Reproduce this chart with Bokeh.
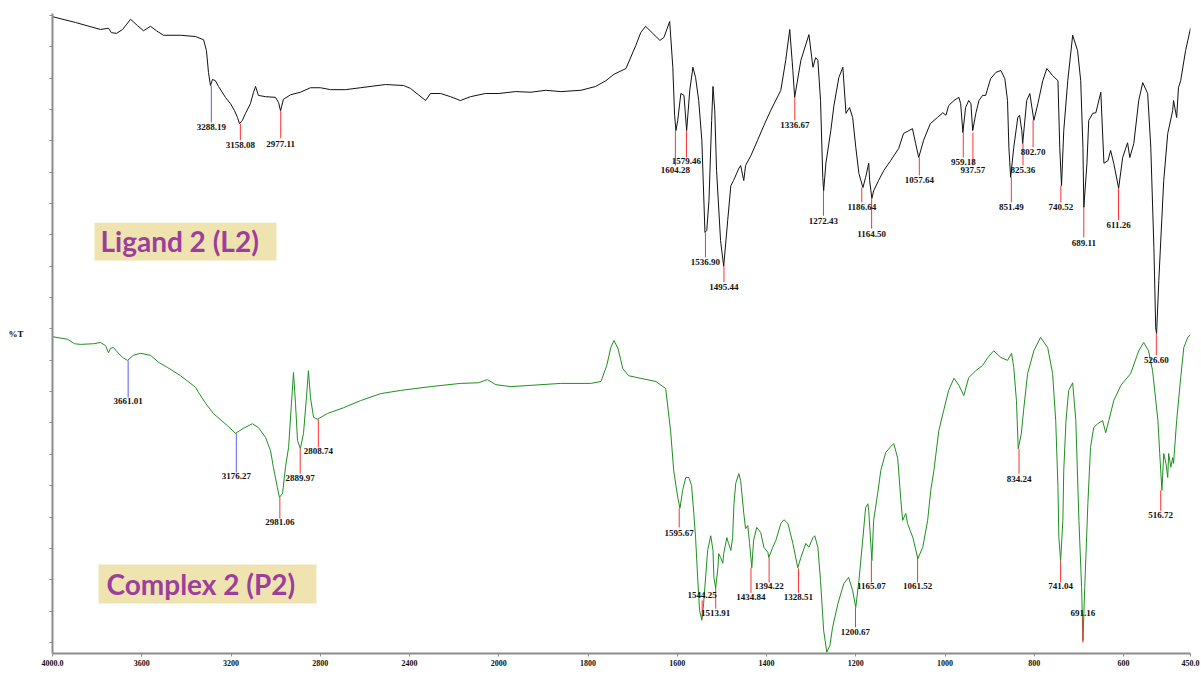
import numpy as np
from bokeh.plotting import figure
from bokeh.models import (FixedTicker, BoxAnnotation, Label, Range1d, ColumnDataSource,
                          CustomJSTickFormatter)
from bokeh.core.properties import value
from bokeh.embed import file_html
from bokeh.resources import INLINE

# ---------------- data (wavenumber cm-1, %T offset scale) ----------------
l2_wn = [4000,3897,3785,3749,3736,3713,3686,3650,3619,3592,
         3561,3534,3503,3426,3359,3323,3310,3301,3292,3283,
         3270,3256,3225,3202,3184,3171,3162,3149,3135,3113,
         3099,3090,3077,3045,3001,2987,2978,2965,2933,2889,
         2844,2799,2754,2687,2620,2508,2427,2396,2360,2328,
         2306,2261,2216,2172,2127,2060,2000,1962,1928,1895,
         1861,1816,1783,1760,1742,1715,1693,1682,1671,1655,
         1639,1630,1617,1610,1606,1603,1599,1592,1585,1579,
         1572,1565,1559,1552,1545,1538,1534,1529,1523,1520,
         1516,1512,1503,1496,1487,1480,1474,1462,1458,1451,
         1447,1435,1420,1406,1391,1368,1357,1348,1341,1337,
         1323,1305,1296,1290,1285,1279,1274,1272,1267,1256,
         1249,1238,1229,1222,1214,1207,1200,1193,1184,1178,
         1171,1169,1164,1160,1149,1137,1122,1104,1093,1081,
         1073,1066,1059,1048,1033,1017,1005,998,992,980,
         969,965,960,954,947,942,938,931,924,916,
         909,904,898,886,875,866,860,857,853,846,
         837,833,828,826,817,810,801,792,781,772,
         759,747,743,739,734,725,714,703,696,691,
         689,682,678,669,662,651,644,635,629,622,
         611,602,591,586,577,566,557,546,539,532,
         528,526,521,510,501,490,488,481,477,472,
         461,450]
l2_t = [99.5,98.6,97.5,97.7,97.0,96.9,97.5,99.1,98.1,97.3,
        98.0,97.3,96.6,96.6,96.4,95.9,94.2,90.8,88.75,89.7,
        89.5,88.6,86.9,85.9,84.8,83.75,82.8,83.3,84.4,85.9,
        87.7,88.6,87.2,87.0,86.9,86.1,84.8,86.6,87.3,87.7,
        88.4,88.4,88.1,88.1,88.4,88.9,88.75,88.3,87.3,86.4,
        87.5,87.5,87.0,86.4,87.0,87.5,87.5,87.8,87.7,88.0,
        87.8,88.0,88.6,89.5,90.5,91.4,95.0,97.0,98.0,96.9,
        95.8,96.25,98.75,91.6,84.1,81.7,83.3,87.5,87.2,81.7,
        88.0,91.6,90.0,86.4,80.2,65.8,66.1,70.8,83.3,88.6,
        84.8,75.5,64.5,60.5,67.7,73.1,73.9,75.8,76.25,73.9,
        76.25,77.8,80.2,82.5,84.8,88.0,92.7,97.5,91.1,86.9,
        92.7,96.7,91.6,93.1,92.7,86.4,74.4,72.3,76.6,81.7,
        85.6,90.0,91.6,84.4,85.3,83.75,79.1,75.0,72.8,74.4,
        76.6,73.9,71.1,72.3,73.9,75.5,77.0,78.9,81.25,81.7,
        82.0,79.7,77.5,80.2,82.8,83.75,84.5,84.1,85.6,86.4,
        86.9,85.9,81.4,85.3,86.4,85.9,81.7,84.4,86.4,87.2,
        87.2,88.4,89.8,90.8,91.1,89.8,86.4,79.1,74.4,79.1,
        83.75,84.1,81.7,79.7,86.4,87.5,83.3,85.9,89.5,91.4,
        90.3,89.5,79.1,73.1,81.7,89.5,96.6,94.2,89.5,79.1,
        69.7,76.6,83.3,84.4,84.5,87.7,76.6,77.0,78.6,76.6,
        72.7,77.5,79.8,77.5,79.7,86.4,89.2,87.5,79.1,63.4,
        50.9,50.0,58.3,73.9,81.25,84.8,86.4,83.75,88.4,89.5,
        94.2,97.7]

p2_wn = [4000,3933,3901,3875,3816,3785,3762,3749,3740,3727,
         3704,3686,3664,3637,3606,3561,3525,3485,3426,3359,
         3346,3314,3279,3216,3180,3144,3104,3077,3045,3023,
         3010,2992,2983,2969,2956,2942,2929,2920,2911,2902,
         2889,2875,2862,2853,2844,2830,2812,2768,2696,2620,
         2530,2441,2306,2172,2091,2051,2013,1973,1928,1861,
         1794,1771,1758,1749,1742,1733,1722,1709,1682,1648,
         1626,1615,1608,1599,1594,1588,1581,1574,1568,1563,
         1559,1554,1550,1545,1541,1532,1525,1520,1518,1514,
         1509,1507,1503,1498,1496,1489,1485,1480,1476,1473,
         1469,1462,1458,1451,1447,1442,1438,1433,1429,1422,
         1413,1406,1397,1395,1386,1379,1368,1361,1352,1341,
         1330,1323,1312,1305,1296,1292,1285,1279,1272,1265,
         1258,1252,1240,1227,1216,1207,1200,1193,1184,1178,
         1173,1171,1164,1160,1151,1144,1133,1122,1115,1106,
         1099,1095,1088,1084,1072,1061,1050,1039,1032,1025,
         1014,1003,992,980,969,958,947,931,916,904,
         891,875,860,851,846,840,836,829,824,815,
         801,786,770,759,752,747,745,741,736,734,
         729,723,714,707,700,694,691,687,680,674,
         667,658,647,640,633,622,606,584,566,555,
         544,535,523,519,514,510,505,501,499,494,
         490,488,481,472,465,456,450]
p2_t = [49.5,49.1,48.4,48.3,48.4,48.6,48.1,47.0,47.7,47.8,
        46.9,46.25,45.8,46.6,46.9,46.6,45.5,44.7,43.4,41.6,
        40.8,39.1,37.5,35.6,34.4,35.2,35.9,35.3,33.75,31.7,
        29.1,25.9,24.4,25.0,29.1,32.2,39.1,43.9,39.1,33.3,
        32.0,34.4,40.0,44.2,40.0,36.9,36.6,37.5,38.4,39.5,
        40.6,41.1,41.7,42.2,42.3,42.8,42.0,41.7,41.9,42.2,
        42.2,42.5,45.0,47.8,48.9,47.7,44.5,43.4,43.0,42.5,
        41.4,34.8,28.6,24.4,22.7,25.5,27.5,27.5,26.25,21.9,
        18.1,11.4,6.7,5.2,7.8,16.1,18.4,16.1,11.9,10.2,
        13.4,15.6,15.0,14.1,15.6,18.1,17.2,16.1,18.1,23.4,
        26.6,28.1,27.0,21.9,19.5,20.0,17.2,13.4,17.7,19.7,
        18.9,16.6,15.8,15.0,16.6,17.7,20.3,20.9,20.3,17.2,
        13.4,15.0,17.2,16.6,18.1,18.4,16.6,11.4,3.6,0.2,
        1.25,4.1,7.8,10.9,11.9,9.8,7.2,11.4,18.1,22.8,
        23.4,22.3,14.5,20.8,25.0,28.6,31.4,32.3,32.8,30.5,
        23.9,20.8,21.9,20.3,18.1,14.8,16.6,20.8,25.5,28.6,
        34.8,38.0,41.1,43.0,41.9,40.3,43.1,44.2,45.0,46.25,
        47.3,46.25,45.8,46.9,44.7,39.5,32.0,34.4,38.0,43.75,
        47.3,49.4,47.8,43.75,36.4,25.9,18.1,14.5,20.8,28.6,
        36.4,41.1,42.3,36.4,20.8,10.3,2.0,10.3,23.4,32.2,
        35.3,35.9,36.4,34.5,36.4,39.5,41.9,43.75,47.3,48.6,
        47.3,44.2,36.4,31.25,25.5,31.25,29.7,27.5,31.25,29.1,
        30.6,29.7,36.4,43.1,47.8,49.4,49.8]

# peak picks: wavenumber, marker top, marker bottom, label position
l2_peaks = [3288.19, 3158.08, 2977.11, 1604.28, 1579.46, 1536.90, 1495.44, 1336.67,
            1272.43, 1186.64, 1164.50, 1057.64, 959.18, 937.57, 851.49, 825.36,
            802.70, 740.52, 689.11, 611.26, 526.60]
l2_peak_top = [88.75, 82.8, 84.8, 81.7, 81.7, 65.8, 60.5, 86.9, 72.3, 72.8, 71.1, 77.5,
               81.4, 81.4, 74.4, 79.7, 83.3, 73.1, 69.7, 72.7, 50.0]
l2_peak_bot = [82.97, 80.2, 80.5, 76.25, 77.5, 61.9, 58.0, 83.3, 68.4, 70.5, 66.4, 74.7,
               77.5, 76.25, 70.5, 76.25, 79.1, 70.5, 65.0, 67.7, 46.6]
l2_peak_lab = [82.2, 79.4, 79.6, 75.5, 76.9, 61.2, 57.2, 82.6, 67.6, 69.8, 65.6, 74.0,
               76.8, 75.5, 69.8, 75.5, 78.3, 69.8, 64.2, 67.0, 45.8]
l2_peak_col = ["#5a5aff"] + ["#ff3030"] * 20

p2_peaks = [3661.01, 3176.27, 2981.06, 2889.97, 2808.74, 1595.67, 1544.25, 1513.91,
            1434.84, 1394.22, 1328.51, 1200.67, 1165.07, 1061.52, 834.24, 741.04,
            691.16, 516.72]
p2_peak_top = [45.8, 34.4, 24.4, 32.0, 36.6, 22.7, 8.3, 10.2, 13.4, 15.0, 13.3, 7.2,
               14.5, 15.3, 32.0, 14.5, 5.6, 25.5]
p2_peak_bot = [40.0, 28.3, 21.1, 28.1, 32.2, 19.7, 5.6, 7.0, 9.5, 11.1, 9.5, 4.1,
               11.1, 11.1, 28.1, 11.1, 1.7, 22.3]
p2_peak_lab = [39.4, 27.7, 20.5, 27.5, 31.6, 18.9, 9.1, 6.3, 8.9, 10.5, 8.9, 3.3,
               10.5, 10.5, 27.3, 10.5, 6.3, 21.7]
p2_peak_col = ["#5a5aff", "#5a5aff"] + ["#ff3030"] * 16

tick_wn = [4000, 3600, 3200, 2800, 2400, 2000, 1800, 1600, 1400, 1200, 1000, 800, 600, 450]
tick_txt = ["4000.0", "3600", "3200", "2800", "2400", "2000", "1800", "1600", "1400",
            "1200", "1000", "800", "600", "450.0"]


# x axis of the instrument: half scale above 2000 cm-1
def xu(wn):
    wn = np.asarray(wn, dtype=float)
    return np.where(wn >= 2000, (4000 - wn) / 2.0, 1000 + (2000 - wn))


p = figure(width=1201, height=675, output_backend="svg", toolbar_location=None,
           x_range=Range1d(0, 2550), y_range=Range1d(0, 100),
           min_border_left=52, min_border_right=11, min_border_top=13, min_border_bottom=22)
p.outline_line_color = None
p.xgrid.visible = False
p.ygrid.visible = False
p.background_fill_color = "white"
p.border_fill_color = "white"

# spectra
p.line(xu(l2_wn), l2_t, line_color="#111111", line_width=1)
p.line(xu(p2_wn), p2_t, line_color="#1f8f1f", line_width=1)

# peak markers
for pk, top, bot, lab, col in [(l2_peaks, l2_peak_top, l2_peak_bot, l2_peak_lab, l2_peak_col),
                               (p2_peaks, p2_peak_top, p2_peak_bot, p2_peak_lab, p2_peak_col)]:
    xs = xu(pk)
    p.segment(x0=xs, y0=top, x1=xs, y1=bot, line_color=col, line_width=1)
    src = ColumnDataSource(dict(x=xs, y=lab, t=[f"{v:.2f}" for v in pk]))
    p.text(x="x", y="y", text="t", source=src, text_font=value("Liberation Serif"),
           text_font_style="bold", text_font_size="9px", text_align="center",
           text_baseline="middle", text_color="#111111")

# sample name boxes
p.add_layout(BoxAnnotation(left=float(xu(3812)), right=float(xu(2996)), bottom=61.4, top=67.3,
                           fill_color="#efe3b0", fill_alpha=1.0, line_color=None, level="underlay"))
p.add_layout(BoxAnnotation(left=float(xu(3794)), right=float(xu(2817)), bottom=7.8, top=13.9,
                           fill_color="#efe3b0", fill_alpha=1.0, line_color=None, level="underlay"))
p.add_layout(Label(x=float(xu(3785)), y=64.4, text="Ligand 2 (L2)", text_font="Lato",
                   text_font_style="bold", text_font_size="28px", text_color="#9c3f9c",
                   text_baseline="middle"))
p.add_layout(Label(x=float(xu(3758)), y=10.9, text="Complex 2 (P2)", text_font="Lato",
                   text_font_style="bold", text_font_size="28px", text_color="#9c3f9c",
                   text_baseline="middle"))

# axes
ax = p.xaxis[0]
ax.ticker = FixedTicker(ticks=list(xu(tick_wn)))
ax.major_label_overrides = {float(u): t for u, t in zip(xu(tick_wn), tick_txt)}
ax.minor_tick_line_color = None
ax.major_tick_out = 3
ax.major_tick_in = 0
ax.major_label_standoff = 3
ax.axis_line_color = "#8c8c8c"
ax.axis_line_width = 2
ax.major_tick_line_color = "#8c8c8c"
ax.major_label_text_font = "Liberation Serif"
ax.major_label_text_font_style = "bold"
ax.major_label_text_font_size = "8px"
ax.major_label_text_color = "#111111"

ay = p.yaxis[0]
ay.ticker = FixedTicker(ticks=[1.72 + 4.9 * k for k in range(21)])
ay.formatter = CustomJSTickFormatter(code="return ''")
ay.minor_tick_line_color = None
ay.major_tick_out = 3
ay.major_tick_in = 0
ay.major_label_standoff = 0
ay.axis_line_color = "#8c8c8c"
ay.axis_line_width = 2
ay.major_tick_line_color = "#8c8c8c"
ay.axis_label = "%T"
ay.axis_label_orientation = "horizontal"
ay.axis_label_standoff = 26
ay.axis_label_text_font = "Liberation Serif"
ay.axis_label_text_font_style = "bold"
ay.axis_label_text_font_size = "9px"
ay.axis_label_text_color = "#111111"

p.add_layout(Label(x=1210, y=-3.3, text="cm\u207b\u00b9", text_font="Liberation Serif",
                   text_font_style="bold", text_font_size="9px", text_color="#111111",
                   text_align="center", text_baseline="bottom"))

open("out.html", "w").write(file_html(p, INLINE))
